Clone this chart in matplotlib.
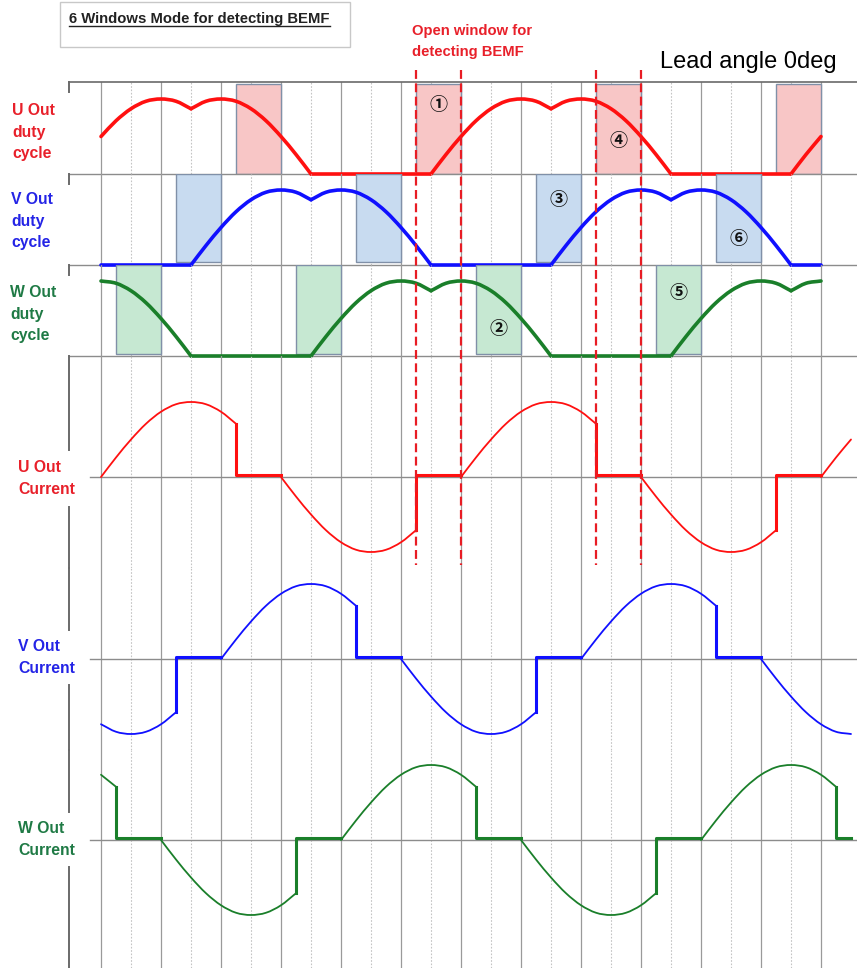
import matplotlib
matplotlib.use('Agg')
import matplotlib.pyplot as plt
from matplotlib.lines import Line2D
from matplotlib.patches import Rectangle, PathPatch
from matplotlib.path import Path
from matplotlib.transforms import blended_transform_factory

W, H = 857, 968

# electrical angle (deg), 15 deg steps
angles = list(range(0, 765, 15))          # 0 .. 750 (currents)
duty_angles = list(range(0, 735, 15))     # 0 .. 720 (duty cycles)

# duty cycles (flat-bottom modulation), 1.0 = peak
u_duty = [.5, .71, .87, .97, 1, .97, .87, .97, 1, .97, .87, .71, .5, .26, 0, 0, 0, 0, 0, 0, 0, 0, 0, .26,
          .5, .71, .87, .97, 1, .97, .87, .97, 1, .97, .87, .71, .5, .26, 0, 0, 0, 0, 0, 0, 0, 0, 0, .26,
          .5]
v_duty = [0, 0, 0, 0, 0, 0, 0, .26, .5, .71, .87, .97, 1, .97, .87, .97, 1, .97, .87, .71, .5, .26, 0, 0,
          0, 0, 0, 0, 0, 0, 0, .26, .5, .71, .87, .97, 1, .97, .87, .97, 1, .97, .87, .71, .5, .26, 0, 0,
          0]
w_duty = [1, .97, .87, .71, .5, .26, 0, 0, 0, 0, 0, 0, 0, 0, 0, .26, .5, .71, .87, .97, 1, .97, .87, .97,
          1, .97, .87, .71, .5, .26, 0, 0, 0, 0, 0, 0, 0, 0, 0, .26, .5, .71, .87, .97, 1, .97, .87, .97,
          1]

# phase currents (before the BEMF windows cut them)
u_current = [0, .26, .5, .71, .87, .97, 1, .97, .87, .71, .5, .26, 0, -.26, -.5, -.71, -.87, -.97, -1,
             -.97, -.87, -.71, -.5, -.26, 0, .26, .5, .71, .87, .97, 1, .97, .87, .71, .5, .26, 0, -.26,
             -.5, -.71, -.87, -.97, -1, -.97, -.87, -.71, -.5, -.26, 0, .26, .5]
v_current = [-.87, -.97, -1, -.97, -.87, -.71, -.5, -.26, 0, .26, .5, .71, .87, .97, 1, .97, .87, .71,
             .5, .26, 0, -.26, -.5, -.71, -.87, -.97, -1, -.97, -.87, -.71, -.5, -.26, 0, .26, .5, .71,
             .87, .97, 1, .97, .87, .71, .5, .26, 0, -.26, -.5, -.71, -.87, -.97, -1]
w_current = [.87, .71, .5, .26, 0, -.26, -.5, -.71, -.87, -.97, -1, -.97, -.87, -.71, -.5, -.26, 0, .26,
             .5, .71, .87, .97, 1, .97, .87, .71, .5, .26, 0, -.26, -.5, -.71, -.87, -.97, -1, -.97,
             -.87, -.71, -.5, -.26, 0, .26, .5, .71, .87, .97, 1, .97, .87, .71, .5]

# open windows for BEMF detection (deg)
u_windows = [(135, 180), (315, 360), (495, 540), (675, 720)]
v_windows = [(75, 120), (255, 300), (435, 480), (615, 660)]
w_windows = [(15, 60), (195, 240), (375, 420), (555, 600), (735, 780)]

win_labels = ['①', '②', '③', '④', '⑤', '⑥']
win_label_phase = ['U', 'W', 'V', 'U', 'W', 'V']
win_label_index = [1, 2, 2, 2, 3, 3]
win_label_level = [0.92, 0.37, 0.87, 0.45, 0.85, 0.36]

bemf_marks = [315, 360, 495, 540]

red, blue, green = '#ff1010', '#1010ff', '#1a7f2a'
label_red, label_blue, label_green = '#e8202a', '#2424e6', '#1f7a45'

fig = plt.figure(figsize=(W / 100, H / 100), dpi=100)


def fx(px):
    return px / W


def fy(py):
    return 1 - py / H


PX = 75.0  # pixels per unit


def make_band(top, bottom, zero):
    ax = fig.add_axes([fx(69), fy(bottom), fx(857) - fx(69), (bottom - top) / H])
    ax.set_xlim(-32, 756)
    ax.set_ylim((zero - bottom) / PX, (zero - top) / PX)
    ax.axis('off')
    for a in range(0, 721, 60):
        ax.axvline(a, color='#9a9a9a', lw=0.9, zorder=0)
    for a in range(30, 691, 60):
        ax.axvline(a, color='#c4c4c4', lw=0.8, ls=(0, (1.5, 1.5)), zorder=0)
    return ax


def smooth_line(ax, xs, ys, color, lw, clip=True):
    # smooth curve through the read points (cubic Bezier pieces)
    pts = list(zip(xs, ys))
    n = len(pts)
    verts, codes = [pts[0]], [Path.MOVETO]
    for i in range(n - 1):
        p1, p2 = pts[i], pts[i + 1]
        p0 = pts[i - 1] if i > 0 else (2 * p1[0] - p2[0], 2 * p1[1] - p2[1])
        p3 = pts[i + 2] if i + 2 < n else (2 * p2[0] - p1[0], 2 * p2[1] - p1[1])
        c1 = (p1[0] + (p2[0] - p0[0]) / 6, p1[1] + (p2[1] - p0[1]) / 6)
        c2 = (p2[0] - (p3[0] - p1[0]) / 6, p2[1] - (p3[1] - p1[1]) / 6)
        verts += [c1, c2, p2]
        codes += [Path.CURVE4] * 3
    patch = PathPatch(Path(verts, codes), fill=False, ec=color, lw=lw, zorder=3,
                      capstyle='round', joinstyle='round')
    patch.set_clip_on(clip)
    ax.add_patch(patch)


def draw_duty(ax, ys, color):
    # split at the kinks (dips and clamp corners) and smooth each piece
    cuts = [0] + [k for k in range(1, len(ys) - 1)
                  if ys[k - 1] - 2 * ys[k] + ys[k + 1] > 0.05] + [len(ys) - 1]
    for a, b in zip(cuts[:-1], cuts[1:]):
        smooth_line(ax, duty_angles[a:b + 1], ys[a:b + 1], color, 2.6, clip=False)


ax_ud = make_band(82, 174, 174)
ax_vd = make_band(174, 265, 265)
ax_wd = make_band(265, 356, 356)
ax_uc = make_band(356, 568, 477)
ax_vc = make_band(568, 750, 659)
ax_wc = make_band(750, 968, 840)

# frame pieces
ax_ud.axhline(ax_ud.get_ylim()[1], color='#6a6a6a', lw=1.2, clip_on=False)
for ax in (ax_ud, ax_vd, ax_wd):
    ax.axhline(0, color='#8c8c8c', lw=1.0, zorder=1.5, clip_on=False)
    h = ax.get_ylim()[1] - ax.get_ylim()[0]
    ax.axvline(-32, ymin=1 - 10 / (h * PX), ymax=1, color='#6a6a6a', lw=1.4, clip_on=False)
for ax, gaps in ((ax_uc, (94, 151)), (ax_vc, (62, 117)), (ax_wc, (62, 117))):
    hpx = (ax.get_ylim()[1] - ax.get_ylim()[0]) * PX
    ax.axvline(-32, ymin=1 - gaps[0] / hpx, ymax=1, color='#6a6a6a', lw=1.4, clip_on=False)
    ax.axvline(-32, ymin=0, ymax=1 - gaps[1] / hpx, color='#6a6a6a', lw=1.4, clip_on=False)
    ax.axhline(0, xmin=21 / 788, xmax=1, color='#8c8c8c', lw=1.0, zorder=1)

# BEMF window boxes
box_style = dict(ec='#8090a8', lw=1.0, zorder=1)
for ax, wins, fc, ylo, yhi in ((ax_ud, u_windows, '#f8c6c6', 0.0, 0.978),
                               (ax_vd, v_windows, '#c8dbf0', 0.033, 1.0),
                               (ax_wd, w_windows, '#c6e8d2', 0.022, 1.0)):
    for s, e in wins:
        if e <= 720:
            ax.axvspan(s, e, ymin=ylo, ymax=yhi, fc=fc, **box_style)

# duty cycle curves
draw_duty(ax_ud, u_duty, red)
draw_duty(ax_vd, v_duty, blue)
draw_duty(ax_wd, w_duty, green)

# window numbers
phase_ax = {'U': (ax_ud, u_windows), 'V': (ax_vd, v_windows), 'W': (ax_wd, w_windows)}
for lab, ph, idx, lvl in zip(win_labels, win_label_phase, win_label_index, win_label_level):
    ax, wins = phase_ax[ph]
    s, e = wins[idx]
    ax.text((s + e) / 2, lvl, lab, ha='center', va='center', fontsize=13, color='#111111',
            fontweight='bold', family=['Noto Sans CJK JP', 'DejaVu Sans'], zorder=4)


# currents with BEMF windows
def draw_current(ax, vals, windows, color, flat=0.03):
    val = dict(zip(angles, vals))
    lo, hi = angles[0], angles[-1]
    edges = [lo] + [x for w in windows for x in w] + [hi]
    for a, b in zip(edges[0::2], edges[1::2]):
        a, b = max(a, lo), min(b, hi)
        if b <= a:
            continue
        xs = [t for t in angles if a <= t <= b]
        smooth_line(ax, xs, [val[t] for t in xs], color, 1.3)
    for s, e in windows:
        if s >= hi:
            continue
        e = min(e, hi)
        ax.plot([s, s, e], [val[s], flat, flat], color=color, lw=2.2, zorder=3)


draw_current(ax_uc, u_current, u_windows, red)
draw_current(ax_vc, v_current, v_windows, blue)
draw_current(ax_wc, w_current, w_windows, green)

# red dashed marks of the open windows
tr = blended_transform_factory(ax_ud.transData, fig.transFigure)
for a in bemf_marks:
    fig.add_artist(Line2D([a, a], [fy(70), fy(565)], transform=tr, color='#e81c24', lw=1.6,
                          ls=(0, (4, 2)), zorder=5))

# labels
lab_font = dict(fontsize=11.3, fontweight='bold', family='Liberation Sans', va='baseline')
for x0, lines, ys, col in ((12, ['U Out', 'duty', 'cycle'], [115, 137, 158], label_red),
                           (11, ['V Out', 'duty', 'cycle'], [204, 226, 247], label_blue),
                           (10, ['W Out', 'duty', 'cycle'], [297, 319, 340], label_green),
                           (18, ['U Out', 'Current'], [472, 494], label_red),
                           (18, ['V Out', 'Current'], [651, 673], label_blue),
                           (18, ['W Out', 'Current'], [833, 855], label_green)):
    for txt, y in zip(lines, ys):
        fig.text(fx(x0), fy(y), txt, color=col, **lab_font)

note_font = dict(color='#e8202a', fontsize=10.6, fontweight='bold', family='Liberation Sans',
                 va='baseline')
fig.text(fx(412), fy(35), 'Open window for', **note_font)
fig.text(fx(412), fy(56), 'detecting BEMF', **note_font)
fig.text(fx(660), fy(68), 'Lead angle 0deg', color='black', fontsize=17,
         family='Liberation Sans', va='baseline')

# title box
fig.add_artist(Rectangle((fx(60), fy(47)), fx(350) - fx(60), 45 / H, transform=fig.transFigure,
                         fill=False, ec='#c8c8c8', lw=1.0))
title = fig.text(fx(69), fy(23), '6 Windows Mode for detecting BEMF', color='#222222', fontsize=10.7,
                 fontweight='bold', family='Liberation Sans', va='baseline')
fig.canvas.draw()
bb = title.get_window_extent()
fig.add_artist(Line2D([bb.x0 / W, bb.x1 / W], [fy(25.5), fy(25.5)], transform=fig.transFigure,
                      color='#222222', lw=1.0))

fig.savefig('out.png', dpi=100)
